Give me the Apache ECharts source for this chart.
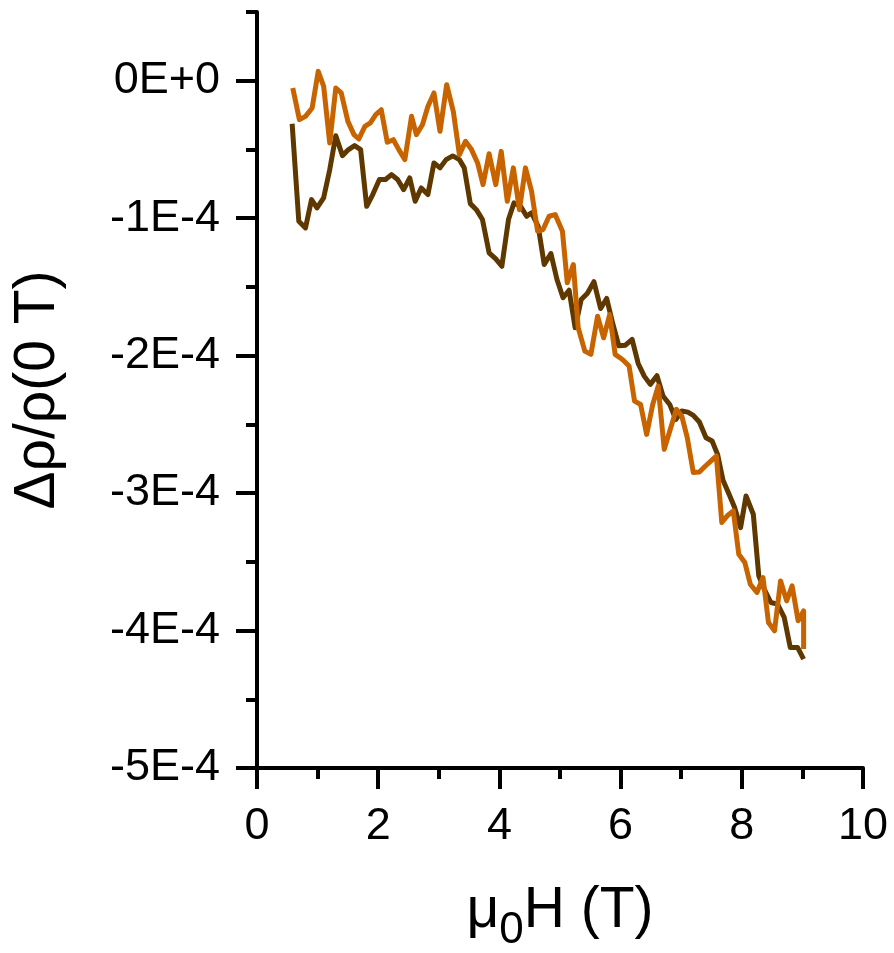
<!DOCTYPE html>
<html>
<head>
<meta charset="utf-8">
<script src="https://cdn.jsdelivr.net/npm/echarts@6/dist/echarts.min.js"></script>
<style>html,body{margin:0;padding:0;background:#fff}#c{width:894px;height:953px}</style>
</head>
<body>
<div id="c"></div>
<script>
// Field values (T) and Δρ/ρ(0 T) in units of 1E-4
var fieldBrown = [0.58,0.69,0.80,0.90,0.99,1.10,1.20,1.30,1.41,1.51,1.61,1.71,1.81,1.91,2.02,2.12,2.22,2.32,2.42,2.52,2.61,2.71,2.82,2.92,3.02,3.12,3.23,3.34,3.42,3.52,3.62,3.72,3.83,3.94,4.04,4.15,4.24,4.35,4.45,4.53,4.64,4.74,4.85,4.95,5.05,5.15,5.25,5.35,5.45,5.56,5.67,5.77,5.87,5.97,6.08,6.19,6.29,6.39,6.49,6.60,6.70,6.81,6.91,7.01,7.11,7.20,7.30,7.41,7.51,7.60,7.69,7.79,7.88,7.98,8.07,8.19,8.28,8.37,8.48,8.59,8.70,8.80,8.92,9.02];
var drhoBrown = [-0.313,-1.023,-1.071,-0.865,-0.925,-0.852,-0.647,-0.400,-0.545,-0.501,-0.472,-0.501,-0.914,-0.828,-0.719,-0.719,-0.683,-0.719,-0.792,-0.707,-0.877,-0.780,-0.828,-0.598,-0.634,-0.574,-0.547,-0.574,-0.634,-0.894,-0.938,-1.010,-1.252,-1.296,-1.350,-1.010,-0.889,-0.914,-0.986,-0.961,-1.059,-1.337,-1.257,-1.446,-1.579,-1.524,-1.797,-1.592,-1.548,-1.462,-1.657,-1.584,-1.766,-1.928,-1.924,-1.882,-2.057,-2.149,-2.209,-2.146,-2.294,-2.355,-2.464,-2.403,-2.411,-2.435,-2.483,-2.597,-2.621,-2.718,-2.907,-3.009,-3.103,-3.251,-3.021,-3.154,-3.602,-3.699,-3.796,-3.808,-3.905,-4.123,-4.123,-4.208];

var fieldOrange = [0.59,0.70,0.80,0.91,1.01,1.10,1.20,1.30,1.39,1.50,1.60,1.68,1.78,1.87,1.96,2.05,2.15,2.25,2.34,2.44,2.55,2.63,2.73,2.82,2.92,3.02,3.13,3.24,3.34,3.44,3.54,3.64,3.73,3.83,3.94,4.03,4.13,4.23,4.33,4.43,4.53,4.63,4.72,4.82,4.92,5.04,5.12,5.22,5.30,5.41,5.51,5.62,5.72,5.82,5.91,6.03,6.14,6.23,6.33,6.43,6.53,6.62,6.72,6.82,6.92,7.01,7.10,7.20,7.30,7.40,7.51,7.58,7.67,7.77,7.86,7.95,8.05,8.14,8.25,8.35,8.44,8.54,8.64,8.74,8.83,8.93,9.02,9.02];
var drhoOrange = [-0.053,-0.283,-0.259,-0.198,0.068,-0.041,-0.453,-0.053,-0.089,-0.296,-0.392,-0.424,-0.332,-0.307,-0.247,-0.211,-0.448,-0.429,-0.501,-0.574,-0.259,-0.392,-0.320,-0.187,-0.089,-0.368,-0.029,-0.225,-0.538,-0.441,-0.501,-0.598,-0.756,-0.531,-0.756,-0.514,-0.877,-0.634,-0.938,-0.634,-0.804,-1.095,-1.083,-0.986,-0.974,-1.095,-1.470,-1.337,-1.797,-1.967,-1.991,-1.713,-1.870,-1.701,-1.991,-2.028,-2.076,-2.331,-2.355,-2.573,-2.355,-2.222,-2.682,-2.536,-2.391,-2.440,-2.597,-2.851,-2.847,-2.803,-2.759,-2.730,-3.214,-3.161,-3.130,-3.445,-3.505,-3.663,-3.723,-3.614,-3.941,-4.002,-3.639,-3.784,-3.675,-3.929,-3.857,-4.135];

var yMajorTicks = [-5,-4,-3,-2,-1,0];
var yMinorTicks = [-4.5,-3.5,-2.5,-1.5,-0.5,0.5];
var xTitle = '{a|μ}{s|0}{a|H (T)}';
var yTitle = 'Δρ/ρ(0 T)';

function pairs(xs, ys){ return xs.map(function(x,i){ return [x, ys[i]]; }); }

var FONT = 'Liberation Sans, Arial, sans-serif';
var BROWN = '#5f3800';
var ORANGE = '#c86400';

var chart = echarts.init(document.getElementById('c'), null, {renderer:'canvas'});
chart.setOption({
  animation:false,
  backgroundColor:'#fff',
  grid:{left:257, right:31, top:12, bottom:185, containLabel:false, outerBoundsMode:'none'},
  xAxis:{
    type:'value', min:0, max:10, interval:2,
    axisLine:{show:true, onZero:false, lineStyle:{color:'#000', width:4}},
    axisTick:{show:true, length:21, lineStyle:{color:'#000', width:4}},
    minorTick:{show:true, splitNumber:2, length:11, lineStyle:{color:'#000', width:4}},
    axisLabel:{fontSize:45, fontFamily:FONT, color:'#000', margin:34, lineHeight:50},
    splitLine:{show:false},
    name:xTitle, nameLocation:'middle', nameGap:115,
    nameTextStyle:{fontFamily:FONT, color:'#000', verticalAlign:'top', rich:{
      a:{fontSize:57, fontFamily:FONT, color:'#000', lineHeight:60, verticalAlign:'top'},
      s:{fontSize:44, fontFamily:FONT, color:'#000', lineHeight:44, padding:[26,0,0,0], verticalAlign:'top'}
    }}
  },
  yAxis:[{
    type:'value', min:-5, max:0.5, interval:0.5,
    axisLine:{show:true, onZero:false, lineStyle:{color:'#000', width:4}},
    axisTick:{show:true, length:21, customValues:yMajorTicks, lineStyle:{color:'#000', width:4}},
    axisLabel:{customValues:yMajorTicks, fontSize:45, fontFamily:FONT, color:'#000', margin:37,
      formatter:function(v){ var n=Math.round(v); return n===0 ? '0E+0' : n+'E-4'; }},
    splitLine:{show:false},
    name:yTitle, nameLocation:'middle', nameGap:186, nameRotate:90,
    nameTextStyle:{fontSize:57, fontFamily:FONT, color:'#000', lineHeight:66}
  },{
    type:'value', min:-5, max:0.5, interval:0.5, position:'left',
    axisLine:{show:false, onZero:false},
    axisTick:{show:true, length:11, customValues:yMinorTicks, lineStyle:{color:'#000', width:4}},
    axisLabel:{show:false},
    splitLine:{show:false}
  }],
  series:[{
    type:'line', data:pairs(fieldBrown, drhoBrown), showSymbol:false, symbol:'none',
    lineStyle:{color:BROWN, width:5, join:'round'}, itemStyle:{color:BROWN}, z:2
  },{
    type:'line', data:pairs(fieldOrange, drhoOrange), showSymbol:false, symbol:'none',
    lineStyle:{color:ORANGE, width:5, join:'round'}, itemStyle:{color:ORANGE}, z:3
  }]
});
</script>
</body>
</html>
